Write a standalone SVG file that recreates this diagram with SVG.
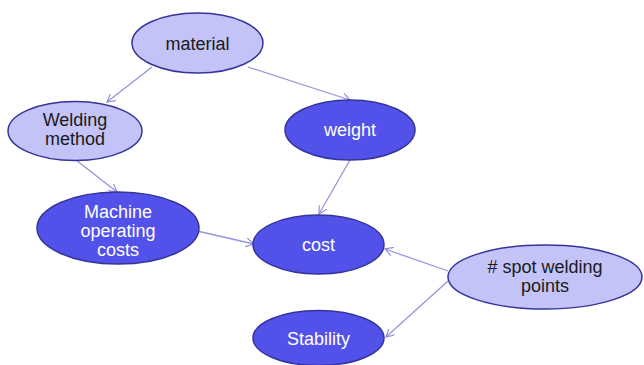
<svg xmlns="http://www.w3.org/2000/svg" width="644" height="365" viewBox="0 0 644 365">
<defs>
<marker id="arr" viewBox="0 0 10 10" refX="9" refY="5" markerWidth="9" markerHeight="9" orient="auto" markerUnits="userSpaceOnUse">
<path d="M0,0 L9,5 L0,10" fill="none" stroke="#8f8fd8" stroke-width="1.3"/>
</marker>
</defs>
<style>
.light{fill:#c3c3f7;stroke:#34349a;stroke-width:1.5}
.dark{fill:#5252ea;stroke:#34349a;stroke-width:1.5}
.tl{font-family:"Liberation Sans",Arial,sans-serif;font-size:18px;fill:#1a1a1a;text-anchor:middle}
.td{font-family:"Liberation Sans",Arial,sans-serif;font-size:18px;fill:#ffffff;text-anchor:middle}
.e{stroke:#9595da;stroke-width:1.3;fill:none;marker-end:url(#arr)}
</style>
<rect width="644" height="365" fill="#ffffff"/>
<g id="connectors">
<line class="e" x1="248" y1="67" x2="350" y2="100"/>
<line class="e" x1="152" y1="67" x2="107" y2="102"/>
<line class="e" x1="76" y1="160" x2="117" y2="192"/>
<line class="e" x1="350" y1="160" x2="319" y2="214"/>
<line class="e" x1="197" y1="231" x2="254" y2="244"/>
<line class="e" x1="448" y1="271" x2="385" y2="249"/>
<line class="e" x1="448" y1="281" x2="386" y2="337"/>
</g>
<g id="material">
<ellipse class="light" cx="197.5" cy="43" rx="65.5" ry="30"/>
<text class="tl" x="197.5" y="49.5">material</text>
</g>
<g id="welding-method">
<ellipse class="light" cx="75" cy="131" rx="67" ry="29.5"/>
<text class="tl" x="75" y="126">Welding</text>
<text class="tl" x="75" y="145">method</text>
</g>
<g id="weight">
<ellipse class="dark" cx="350" cy="130" rx="65" ry="30"/>
<text class="td" x="350" y="136">weight</text>
</g>
<g id="machine-operating-costs">
<ellipse class="dark" cx="118" cy="228" rx="81" ry="36"/>
<text class="td" x="118" y="218">Machine</text>
<text class="td" x="118" y="237">operating</text>
<text class="td" x="118" y="256">costs</text>
</g>
<g id="cost">
<ellipse class="dark" cx="318.5" cy="244.5" rx="65.5" ry="29.5"/>
<text class="td" x="318.5" y="250.5">cost</text>
</g>
<g id="spot-welding-points">
<ellipse class="light" cx="545" cy="277" rx="97" ry="32"/>
<text class="tl" x="545" y="273"># spot welding</text>
<text class="tl" x="545" y="292">points</text>
</g>
<g id="stability">
<ellipse class="dark" cx="318.5" cy="338" rx="65.5" ry="27.5"/>
<text class="td" x="318.5" y="345">Stability</text>
</g>
</svg>
